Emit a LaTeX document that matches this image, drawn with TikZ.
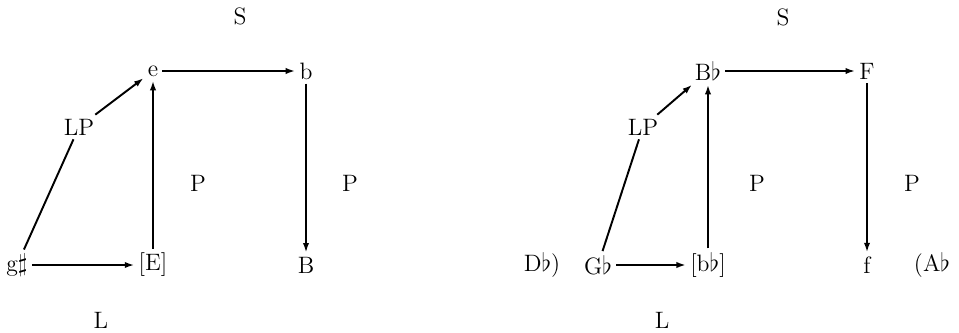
\documentclass[tikz,border=0pt]{standalone}
\usetikzlibrary{arrows.meta}
\begin{document}
\begin{tikzpicture}[
    x=0.02cm, y=-0.02cm,
    every node/.style={font=\fontsize{13.5}{16}\selectfont, inner sep=2.2pt},
    tone/.style={},
    rel/.style={},
    move/.style={line width=1.1pt, -{Latex[length=5.5pt,width=3.6pt]}},
    link/.style={line width=1.1pt},
]
    \useasboundingbox (0,0) rectangle (959,332);

    % Left diagram: tones
    \node[tone] (gs) at (17,265) {g$\sharp$};
    \node[tone] (E)  at (153,265) {[E]};
    \node[tone] (B)  at (306,265) {B};
    \node[tone] (e)  at (153,71) {e};
    \node[tone] (b)  at (306,71) {b};
    \node[rel]  (lpL) at (79,127) {LP};

    % Left diagram: labels
    \node[rel] (sL)  at (240,16) {S};
    \node[rel] (pL1) at (198,183) {P};
    \node[rel] (pL2) at (350,183) {P};
    \node[rel] (lL)  at (101,320) {L};

    % Left diagram: connections
    \draw[link] (gs) -- (lpL);
    \draw[move] (lpL) -- (e);
    \draw[move] (gs) -- (E);
    \draw[move] (E) -- (e);
    \draw[move] (e) -- (b);
    \draw[move] (b) -- (B);

    % Right diagram: tones
    \node[tone] (Db) at (542,265) {D$\flat$)};
    \node[tone] (Gb) at (598,265) {G$\flat$};
    \node[tone] (bb) at (708,265) {[b$\flat$]};
    \node[tone] (f)  at (867,265) {f};
    \node[tone] (Ab) at (932,265) {(A$\flat$};
    \node[tone] (Bb) at (708,71) {B$\flat$};
    \node[tone] (F)  at (867,71) {F};
    \node[rel]  (lpR) at (643,127) {LP};

    % Right diagram: labels
    \node[rel] (sR)  at (783,17) {S};
    \node[rel] (pR1) at (757,183) {P};
    \node[rel] (pR2) at (912,183) {P};
    \node[rel] (lR)  at (662,320) {L};

    % Right diagram: connections
    \draw[link] (Gb) -- (lpR);
    \draw[move] (lpR) -- (Bb);
    \draw[move] (Gb) -- (bb);
    \draw[move] (bb) -- (Bb);
    \draw[move] (Bb) -- (F);
    \draw[move] (F) -- (f);
\end{tikzpicture}
\end{document}
